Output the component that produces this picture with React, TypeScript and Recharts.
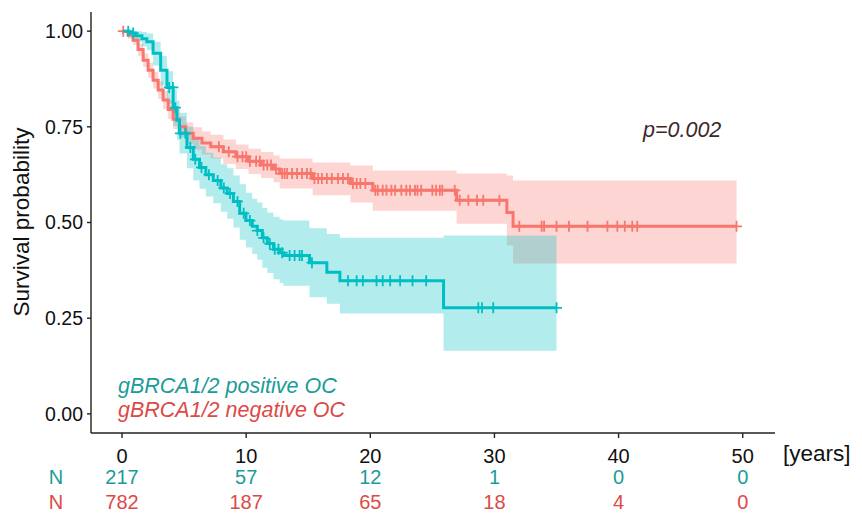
import { ComposedChart, Area, Line, Scatter, XAxis, YAxis } from "recharts";

// gBRCA1/2 negative OC (red)
const negTime = [0, 0.48, 0.89, 1.29, 1.7, 2.1, 2.5, 2.91, 3.31, 3.72, 4.12, 4.63, 5.13, 5.74, 6.44, 7.15, 8.16, 9.17, 10.19, 11.2, 12.2, 12.7, 15.35, 18.4, 20.2, 26.95, 31.0, 31.5, 49.5];
const negSurv = [1, 0.99, 0.976, 0.952, 0.924, 0.898, 0.872, 0.846, 0.82, 0.795, 0.77, 0.75, 0.733, 0.72, 0.708, 0.698, 0.685, 0.672, 0.66, 0.65, 0.64, 0.628, 0.615, 0.602, 0.584, 0.558, 0.526, 0.49, 0.49];
const negLower = [1, 0.98, 0.964, 0.936, 0.906, 0.878, 0.85, 0.823, 0.796, 0.77, 0.744, 0.723, 0.705, 0.691, 0.678, 0.667, 0.653, 0.64, 0.627, 0.616, 0.605, 0.589, 0.571, 0.552, 0.531, 0.497, 0.44, 0.393, 0.393];
const negUpper = [1, 1, 0.988, 0.968, 0.942, 0.918, 0.894, 0.869, 0.844, 0.82, 0.796, 0.777, 0.761, 0.749, 0.738, 0.729, 0.717, 0.704, 0.693, 0.684, 0.675, 0.667, 0.657, 0.649, 0.636, 0.628, 0.623, 0.61, 0.61];
const negCensor = [0.1, 7.8, 8.6, 9.3, 9.7, 10.0, 10.3, 10.8, 11.1, 11.4, 11.7, 12.0, 12.4, 12.9, 13.1, 13.3, 13.7, 14.1, 14.5, 14.9, 15.2, 15.5, 15.8, 16.1, 16.5, 16.9, 17.4, 17.8, 18.2, 18.6, 18.9, 19.2, 19.6, 20.4, 20.6, 21.0, 21.3, 21.7, 22.0, 22.5, 22.9, 23.2, 23.6, 23.8, 24.1, 25.0, 25.3, 25.6, 25.8, 26.8, 27.2, 27.9, 28.6, 29.1, 30.4, 32.0, 33.8, 34.0, 35.0, 36.0, 37.5, 39.1, 39.9, 40.5, 41.1, 41.5, 49.5];

// gBRCA1/2 positive OC (teal)
const posTime = [0, 0.58, 1.09, 1.6, 2.0, 2.5, 3.11, 3.62, 4.12, 4.42, 4.63, 5.23, 5.74, 6.24, 6.75, 7.35, 7.96, 8.47, 8.97, 9.48, 9.98, 10.49, 10.89, 11.3, 11.7, 12.2, 12.7, 13.0, 15.1, 16.5, 17.55, 25.9, 35.0];
const posSurv = [1, 0.995, 0.988, 0.98, 0.972, 0.942, 0.898, 0.853, 0.8, 0.767, 0.733, 0.696, 0.665, 0.644, 0.625, 0.61, 0.59, 0.576, 0.555, 0.524, 0.505, 0.49, 0.479, 0.46, 0.445, 0.43, 0.421, 0.414, 0.395, 0.37, 0.348, 0.277, 0.277];
const posLower = [1, 0.985, 0.972, 0.96, 0.95, 0.91, 0.858, 0.81, 0.752, 0.716, 0.68, 0.642, 0.61, 0.588, 0.568, 0.55, 0.528, 0.51, 0.487, 0.455, 0.435, 0.418, 0.403, 0.382, 0.368, 0.352, 0.342, 0.335, 0.305, 0.288, 0.262, 0.165, 0.165];
const posUpper = [1, 1, 1, 0.998, 0.994, 0.972, 0.935, 0.895, 0.848, 0.818, 0.787, 0.75, 0.72, 0.7, 0.682, 0.67, 0.652, 0.642, 0.623, 0.6, 0.578, 0.562, 0.552, 0.538, 0.526, 0.515, 0.508, 0.505, 0.485, 0.47, 0.46, 0.466, 0.466];
const posCensor = [0.5, 0.9, 3.8, 4.1, 4.3, 4.7, 5.1, 5.5, 5.9, 6.4, 7.0, 7.7, 8.2, 8.7, 9.3, 9.8, 10.3, 10.9, 11.4, 11.9, 12.3, 12.6, 12.9, 13.5, 13.9, 14.3, 14.5, 15.3, 18.2, 18.9, 19.4, 20.5, 21.0, 21.6, 22.4, 23.4, 24.5, 28.7, 29.0, 29.9, 35.0];

const xTicks = [0, 10, 20, 30, 40, 50];
const yTicks = [0, 0.25, 0.5, 0.75, 1];
const riskPos = [217, 57, 12, 1, 0, 0];
const riskNeg = [782, 187, 65, 18, 4, 0];

const RED = "#F8766D";
const TEAL = "#00BFC4";
const RED_TXT = "#DC4A48";
const TEAL_TXT = "#1B9C99";
const FONT = "'Liberation Sans', Arial, sans-serif";

const toRows = (time: number[], surv: number[], lo: number[], hi: number[]) =>
  time.map((t, i) => ({ t, s: surv[i], band: [lo[i], hi[i]] }));

// survival value of the step curve at time t
const survAt = (time: number[], surv: number[], t: number) => {
  let v = surv[0];
  for (let i = 0; i < time.length; i++) if (time[i] <= t) v = surv[i];
  return v;
};

const negRows = toRows(negTime, negSurv, negLower, negUpper);
const posRows = toRows(posTime, posSurv, posLower, posUpper);
const negMarks = negCensor.map((t) => ({ t, s: survAt(negTime, negSurv, t) }));
const posMarks = posCensor.map((t) => ({ t, s: survAt(posTime, posSurv, t) }));

const plus = (color: string) => (props: any) => {
  const { cx, cy } = props;
  return <path d={`M${cx - 5.5},${cy}H${cx + 5.5}M${cx},${cy - 5.5}V${cy + 5.5}`} stroke={color} strokeWidth={1.8} fill="none" />;
};

const XTick = (props: any) => {
  const { x, y, payload } = props;
  const i = xTicks.indexOf(payload.value);
  return (
    <g fontFamily={FONT} textAnchor="middle">
      <text x={x} y={y + 25} fontSize={20} fill="#111">{payload.value}</text>
      <text x={x} y={y + 46} fontSize={20} fill={TEAL_TXT}>{riskPos[i]}</text>
      <text x={x} y={y + 71} fontSize={20} fill={RED_TXT}>{riskNeg[i]}</text>
      {i === 0 && (
        <>
          <text x={x - 66} y={y + 46} fontSize={20} fill={TEAL_TXT}>N</text>
          <text x={x - 66} y={y + 71} fontSize={20} fill={RED_TXT}>N</text>
        </>
      )}
    </g>
  );
};

export default function App() {
  return (
    <div style={{ position: "fixed", left: 0, top: 0, width: 862, height: 513, background: "#fff" }}>
      <ComposedChart width={862} height={513} margin={{ top: 12, right: 87, bottom: 0, left: 0 }} style={{ overflow: "visible" }}>
        <XAxis
          dataKey="t"
          type="number"
          domain={[-2.5, 52.6]}
          ticks={xTicks}
          allowDataOverflow
          height={80}
          tickSize={5}
          tickMargin={0}
          stroke="#222"
          strokeWidth={1.4}
          tick={<XTick />}
        />
        <YAxis
          dataKey="s"
          type="number"
          domain={[-0.05, 1.05]}
          ticks={yTicks}
          allowDataOverflow
          width={91}
          tickSize={4}
          tickMargin={4}
          stroke="#222"
          strokeWidth={1.4}
          tickFormatter={(v: number) => v.toFixed(2)}
          tick={{ fontSize: 19.5, fill: "#111", fontFamily: FONT }}
        />
        <Area data={negRows} dataKey="band" type="stepAfter" fill={RED} fillOpacity={0.3} stroke="none" isAnimationActive={false} />
        <Area data={posRows} dataKey="band" type="stepAfter" fill={TEAL} fillOpacity={0.3} stroke="none" isAnimationActive={false} />
        <Line data={negRows} dataKey="s" type="stepAfter" stroke={RED} strokeWidth={3} dot={false} isAnimationActive={false} />
        <Line data={posRows} dataKey="s" type="stepAfter" stroke={TEAL} strokeWidth={3} dot={false} isAnimationActive={false} />
        <Scatter data={negMarks} dataKey="s" shape={plus(RED)} isAnimationActive={false} />
        <Scatter data={posMarks} dataKey="s" shape={plus(TEAL)} isAnimationActive={false} />
      </ComposedChart>
      <svg width={862} height={513} style={{ position: "absolute", left: 0, top: 0, pointerEvents: "none" }} fontFamily={FONT}>
        <text x={29} y={222} fontSize={22.5} fill="#111" textAnchor="middle" transform="rotate(-90 29 222)">Survival probability</text>
        <text x={643} y={137} fontSize={21.5} fontStyle="italic" fill="#3a2828">p=0.002</text>
        <text x={118} y={393} fontSize={21.5} fontStyle="italic" fill={TEAL_TXT}>gBRCA1/2 positive OC</text>
        <text x={118} y={417} fontSize={21.5} fontStyle="italic" fill={RED_TXT}>gBRCA1/2 negative OC</text>
        <text x={783} y={461} fontSize={22.5} fill="#111">[years]</text>
      </svg>
    </div>
  );
}
